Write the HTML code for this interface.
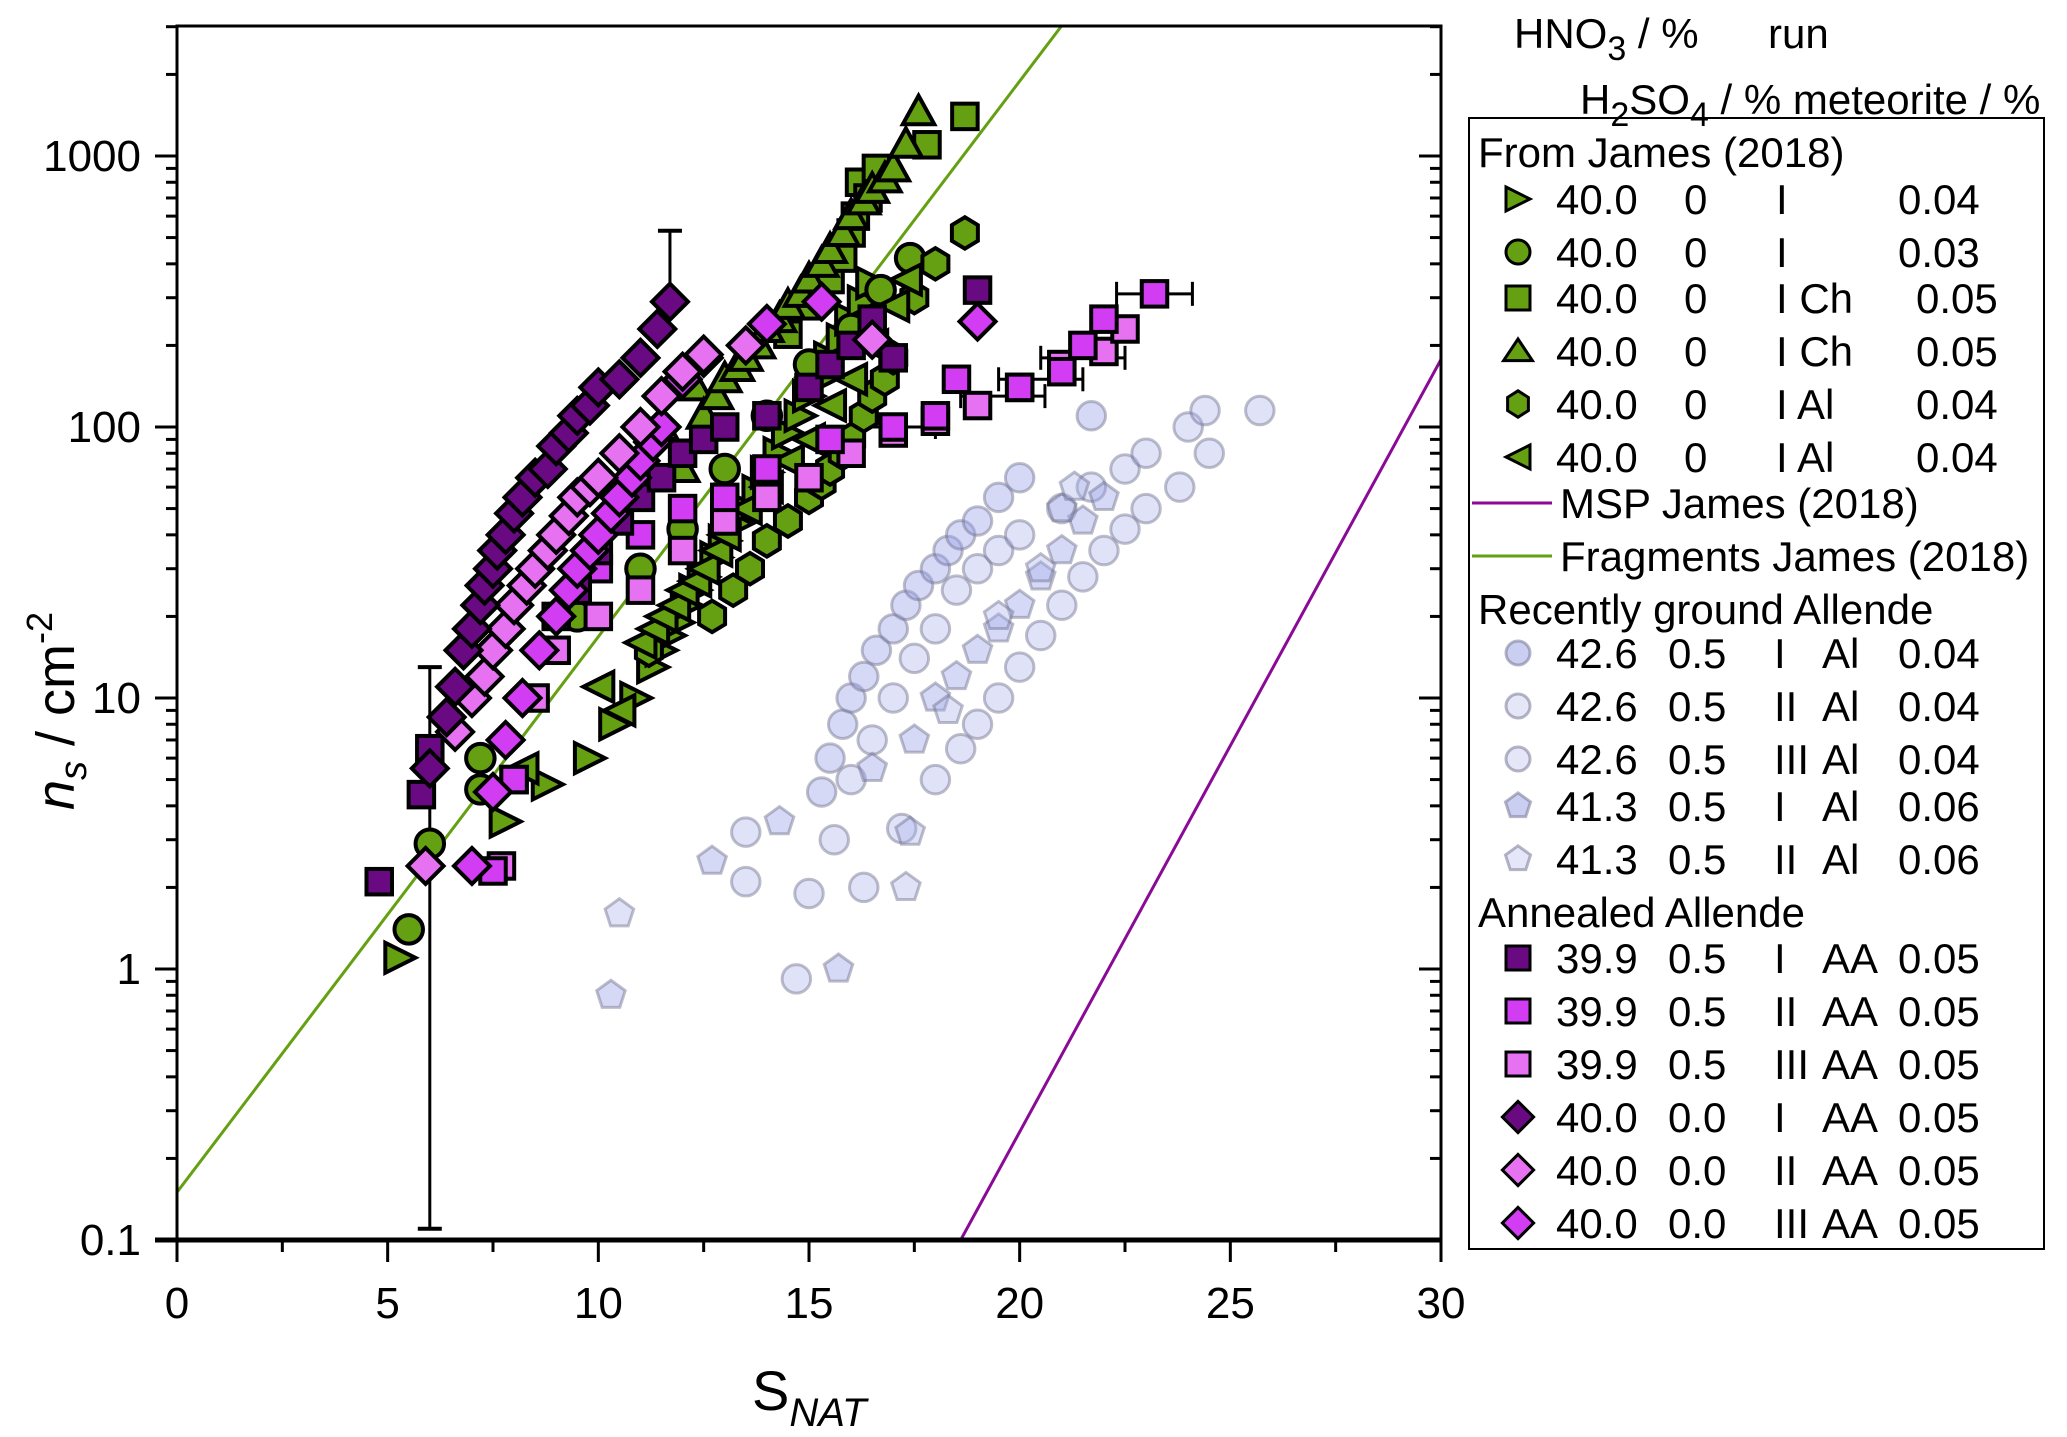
<!DOCTYPE html>
<html><head><meta charset="utf-8"><style>
body{margin:0;background:#fff}
svg{display:block;font-family:"Liberation Sans",Arial,sans-serif}
</style></head><body>
<svg id="chart" width="2067" height="1437" viewBox="0 0 2067 1437" xmlns="http://www.w3.org/2000/svg">
<rect width="2067" height="1437" fill="#fff"/>
<g id="plot"></g>
<g id="axes"></g>
<g id="legend"></g>
</svg>
<script>
const xTicks=[0,5,10,15,20,25,30];
const yTickVals=[0.1,1,10,100,1000];
const yTickLabels=["0.1","1","10","100","1000"];

const triRX=[5.3,7.8,8.8,9.8,10.4,10.9,11.3,11.5,11.7,11.9,12.1,12.3,12.5,12.8,13,13.3,13.5,13.8,14,14.3,14.5,14.8,15,15.3,15.5,15.8,16,16.3,16.5];
const triRY=[1.1,3.5,4.8,6,8,10,13,15,17,19,22,25,28,33,38,44,50,58,68,80,95,110,130,150,180,210,250,290,340];
const circX=[5.5,6,7.2,7.2,9.5,11,12,13,14,15,16,16.7,17.4];
const circY=[1.4,2.9,6,4.6,20,30,42,70,110,170,230,320,420];
const sqGX=[14.5,15,15.2,15.5,15.8,16,16.1,16.2,16.4,16.6,17.8,18.7];
const sqGY=[220,280,320,350,420,520,600,800,700,900,1100,1400];
const triUX=[11.5,12,12.3,12.5,12.8,13,13.3,13.5,13.8,14,14.3,14.5,14.8,15,15.3,15.5,15.8,16,16.3,16.5,16.8,17,17.3,17.6];
const triUY=[100,70,140,110,130,150,165,180,200,230,250,280,310,350,400,450,520,600,680,750,820,900,1100,1450];
const hexX=[11.2,12.7,13.2,13.6,14,14.5,15,15.3,15.5,15.8,16,16.3,16.5,16.8,17,17.5,18,18.7];
const hexY=[15,20,25,30,38,45,55,62,70,80,90,110,130,150,180,300,400,520];
const triLX=[8.2,10,10.5,11,11.3,11.5,11.8,12,12.3,12.5,12.8,13,13.5,14,14.5,15,15.5,16,16.5,17,17.3];
const triLY=[5.5,11,9,16,18,20,22,25,27,30,35,40,50,60,75,90,120,150,200,280,350];
const rgIX=[15.3,15.5,15.8,16,16.3,16.6,17,17.3,17.6,18,18.3,18.6,19,19.5,20,21.7];
const rgIY=[4.5,6,8,10,12,15,18,22,26,30,35,40,45,55,65,110];
const rgIIX=[14.7,15,15.6,16,16.5,17,17.5,18,18.5,19,19.5,20,21,21.7,22.5,23,24,24.4];
const rgIIY=[0.92,1.9,3,5,7,10,14,18,25,30,35,40,50,60,70,80,100,115];
const rgIIIX=[13.5,13.5,16.3,17.2,18,18.6,19,19.5,20,20.5,21,21.5,22,22.5,23,23.8,24.5,25.7];
const rgIIIY=[2.1,3.2,2,3.3,5,6.5,8,10,13,17,22,28,35,42,50,60,80,115];
const pentIX=[10.3,12.7,14.3,15.7,16.5,17.5,18,18.5,19,19.5,20,20.5,21,21.5,22];
const pentIY=[0.8,2.5,3.5,1,5.5,7,10,12,15,18,22,28,35,45,55];
const pentIIX=[10.5,17.3,17.4,18.3,19.5,20.5,21,21.3];
const pentIIY=[1.6,2,3.2,9,20,30,50,60];
const aaSqIX=[4.8,5.8,6,9.5,10,10.5,11,11.5,12,12.5,13,14,15,15.5,16,16.5,17,19];
const aaSqIY=[2.1,4.4,6.5,25,35,45,55,65,80,90,100,110,140,170,200,250,180,320];
const aaSqIIX=[7.5,8,9,10,11,12,13,14,15.5,17,18,18.5,20,21,21.5,22,23.2];
const aaSqIIY=[2.3,5,20,30,40,50,55,70,90,100,110,150,140,160,200,250,310];
const aaSqIIIX=[7.7,8,8.5,9,10,11,12,13,14,15,16,17,18,19,20,21,22,22.5];
const aaSqIIIY=[2.4,5,10,15,20,25,35,45,55,65,80,95,105,120,140,170,190,230];
const dmIX=[6,6.4,6.6,6.8,7,7.2,7.3,7.5,7.6,7.8,8,8.2,8.5,8.8,9,9.3,9.5,9.8,10,10.5,11,11.4,11.7];
const dmIY=[5.5,8.5,11,15,18,22,26,30,35,40,48,55,65,70,85,95,110,120,140,150,180,230,290];
const dmIIX=[5.9,6.6,7,7.3,7.5,7.8,8,8.3,8.5,8.8,9,9.3,9.5,9.8,10,10.5,11,11.5,12,12.5,13.5,16.5];
const dmIIY=[2.4,7.5,10,12,15,18,22,26,30,35,40,47,55,60,65,80,100,130,160,185,200,210];
const dmIIIX=[7,7.5,7.8,8.2,8.6,9,9.3,9.5,9.8,10,10.3,10.5,10.8,11,11.3,11.5,12,12.5,14,15.3,19];
const dmIIIY=[2.4,4.5,7,10,15,20,25,30,35,40,48,55,65,75,88,100,150,180,240,290,245];
const fragLine=[0.15,0.205];
const mspLine=[18.6,0.285];

const NS="http://www.w3.org/2000/svg";
const X0=177,X1=1441,YT=26,YB=1240;
function sx(x){return X0+(x/30)*(X1-X0);}
function sy(v){return 156+(3-Math.log10(v))*271;}
function mk(t,a,p){const e=document.createElementNS(NS,t);for(const k in a)e.setAttribute(k,a[k]);(p||document.getElementById('plot')).appendChild(e);return e;}

const GREEN="#64a012",DP="#6a0a82",MM="#d23cf2",LP="#e672f2",BL="rgba(165,175,235,0.35)",BS="rgba(110,110,140,0.45)";
function shape(kind,cx,cy,fill,stroke,par,s){
  s=s||15;let e;const sw=stroke==="#000"?4:3;
  const at={fill:fill,stroke:stroke,'stroke-width':sw};
  if(kind==='sq'){e=mk('rect',Object.assign({x:cx-s*0.85,y:cy-s*0.85,width:s*1.7,height:s*1.7},at),par);}
  else if(kind==='ci'){e=mk('circle',Object.assign({cx:cx,cy:cy,r:s*0.95},at),par);}
  else{let pts;
    if(kind==='tr')pts=[[-s,-s],[s,0],[-s,s]];
    else if(kind==='tl')pts=[[s,-s],[-s,0],[s,s]];
    else if(kind==='tu')pts=[[0,-s*1.1],[s*1.05,s*0.8],[-s*1.05,s*0.8]];
    else if(kind==='dm')pts=[[0,-s*1.2],[s*1.2,0],[0,s*1.2],[-s*1.2,0]];
    else if(kind==='hx'){pts=[];for(let i=0;i<6;i++){const a=Math.PI/3*i+Math.PI/6;pts.push([Math.cos(a)*s,Math.sin(a)*s*1.05]);}}
    else if(kind==='pn'){pts=[];for(let i=0;i<5;i++){const a=-Math.PI/2+i*2*Math.PI/5;pts.push([Math.cos(a)*s,Math.sin(a)*s]);}}
    e=mk('polygon',Object.assign({points:pts.map(p=>(cx+p[0])+','+(cy+p[1])).join(' ')},at),par);}
  return e;
}
function series(name,kind,xs,ys,fill,stroke){
  const g=mk('g',{});
  
  
  for(let i=0;i<xs.length;i++){
    const m=shape(kind,sx(xs[i]),sy(ys[i]),fill,stroke,g);
    
    
  }
}
const clip=mk('clipPath',{id:'cp'},document.getElementById('chart'));
mk('rect',{x:X0,y:YT,width:X1-X0,height:YB-YT},clip);
const fl=mk('line',{x1:sx(0),y1:sy(fragLine[0]),x2:sx(30),y2:sy(fragLine[0]*Math.pow(10,fragLine[1]*30)),stroke:GREEN,'stroke-width':3,'clip-path':'url(#cp)'});


const ml=mk('line',{x1:sx(mspLine[0]),y1:sy(0.1),x2:sx(30),y2:sy(0.1*Math.pow(10,mspLine[1]*(30-mspLine[0]))),stroke:"#8a0a96",'stroke-width':3,'clip-path':'url(#cp)'});



series('rg-I-circles','ci',rgIX,rgIY,"rgba(150,160,230,0.4)",BS);
series('rg-II-circles','ci',rgIIX,rgIIY,BL,BS);
series('rg-III-circles','ci',rgIIIX,rgIIIY,BL,BS);
series('rg-I-pentagons','pn',pentIX,pentIY,"rgba(150,160,230,0.4)",BS);
series('rg-II-pentagons','pn',pentIIX,pentIIY,BL,BS);
function ebar(x,y1,y2,nm){const g=mk('g',{});
  mk('line',{x1:sx(x),x2:sx(x),y1:sy(y1),y2:sy(y2),stroke:'#000','stroke-width':3},g);
  mk('line',{x1:sx(x)-12,x2:sx(x)+12,y1:sy(y1),y2:sy(y1),stroke:'#000','stroke-width':4},g);
  mk('line',{x1:sx(x)-12,x2:sx(x)+12,y1:sy(y2),y2:sy(y2),stroke:'#000','stroke-width':4},g);}
ebar(6,0.11,13,'error-bar-low');
ebar(11.7,290,530,'error-bar-high');
function hbar(x1,x2,y,nm){const g=mk('g',{});
  mk('line',{x1:sx(x1),x2:sx(x2),y1:sy(y),y2:sy(y),stroke:'#000','stroke-width':3},g);
  mk('line',{x1:sx(x1),x2:sx(x1),y1:sy(y)-12,y2:sy(y)+12,stroke:'#000','stroke-width':3},g);
  mk('line',{x1:sx(x2),x2:sx(x2),y1:sy(y)-12,y2:sy(y)+12,stroke:'#000','stroke-width':3},g);}
hbar(22.3,24.1,310,'hbar-1');hbar(20.5,22.5,180,'hbar-2');hbar(18.6,20.6,130,'hbar-3');hbar(16,18,100,'hbar-4');hbar(19.5,21.5,150,'hbar-5');

series('james-right-triangles','tr',triRX,triRY,GREEN,'#000');
series('james-circles','ci',circX,circY,GREEN,'#000');
series('james-squares','sq',sqGX,sqGY,GREEN,'#000');
series('james-up-triangles','tu',triUX,triUY,GREEN,'#000');
series('james-hexagons','hx',hexX,hexY,GREEN,'#000');
series('james-left-triangles','tl',triLX,triLY,GREEN,'#000');
series('aa-III-squares','sq',aaSqIIIX,aaSqIIIY,LP,'#000');
series('aa-II-squares','sq',aaSqIIX,aaSqIIY,MM,'#000');
series('aa-I-squares','sq',aaSqIX,aaSqIY,DP,'#000');
series('aa-III-diamonds','dm',dmIIIX,dmIIIY,MM,'#000');
series('aa-II-diamonds','dm',dmIIX,dmIIY,LP,'#000');
series('aa-I-diamonds','dm',dmIX,dmIY,DP,'#000');

const ax=document.getElementById('axes');
mk('rect',{x:X0,y:YT,width:X1-X0,height:YB-YT,fill:'none',stroke:'#000','stroke-width':3},ax);
mk('line',{x1:X0-22,x2:X1,y1:YB,y2:YB,stroke:'#000','stroke-width':5},ax);
for(let i=0;i<=12;i++){const v=i*2.5,x=sx(v),maj=i%2===0;
  mk('line',{x1:x,x2:x,y1:YB,y2:YB+(maj?22:12),stroke:'#000','stroke-width':3},ax);}
xTicks.forEach(v=>{const t=mk('text',{x:sx(v),y:1318,'font-size':44,'text-anchor':'middle'},ax);t.textContent=v;
  });
for(let d=-1;d<=3;d++){for(let k=1;k<=9;k++){const v=k*Math.pow(10,d);const y=sy(v);if(y<YT)continue;
  const maj=k===1;
  mk('line',{x1:X0-(maj?22:11),x2:X0,y1:y,y2:y,stroke:'#000','stroke-width':3},ax);
  mk('line',{x1:X1-(maj?22:11),x2:X1,y1:y,y2:y,stroke:'#000','stroke-width':3},ax);}}
yTickVals.forEach((v,i)=>{const t=mk('text',{x:141,y:sy(v)+15,'font-size':44,'text-anchor':'end'},ax);t.textContent=yTickLabels[i];
  });
</script>
<svg style="position:absolute;left:0;top:0" width="2067" height="1437">
<text x="752" y="1410" font-family="Liberation Sans,sans-serif" font-size="56">S<tspan font-size="40" font-style="italic" dy="16">NAT</tspan></text>
<text transform="translate(74,810) rotate(-90)" font-family="Liberation Sans,sans-serif" font-size="54"><tspan font-style="italic">n</tspan><tspan font-size="38" font-style="italic" dy="12">s</tspan><tspan dy="-12"> / cm</tspan><tspan font-size="36" dy="-22">-2</tspan></text>
<g font-family="Liberation Sans,sans-serif" font-size="42">
<text x="1514" y="48">HNO<tspan font-size="34" dy="12">3</tspan><tspan dy="-12"> / %</tspan></text>
<text x="1768" y="48">run</text>
<text x="1580" y="114">H<tspan font-size="34" dy="12">2</tspan><tspan dy="-12">SO</tspan><tspan font-size="34" dy="12">4</tspan><tspan dy="-12"> / % meteorite / %</tspan></text>
</g>
<rect x="1469" y="118" width="575" height="1131" fill="none" stroke="#000" stroke-width="2"/>
<g id="lg" font-family="Liberation Sans,sans-serif" font-size="42"></g>
</svg>
<script>
(function(){
const NS="http://www.w3.org/2000/svg";const lg=document.getElementById('lg');
function t(x,y,s){const e=document.createElementNS(NS,'text');e.setAttribute('x',x);e.setAttribute('y',y+15);e.textContent=s;lg.appendChild(e);return e;}
const G="#64a012",DP="#6a0a82",MM="#d23cf2",LP="#e672f2";
const rows=[
 ['h',152,'From James (2018)'],
 ['tr',199,G,'40.0','0','I','','0.04'],['ci',252,G,'40.0','0','I','','0.03'],
 ['sq',298,G,'40.0','0','I Ch','','0.05'],['tu',351,G,'40.0','0','I Ch','','0.05'],
 ['hx',404,G,'40.0','0','I Al','','0.04'],['tl',457,G,'40.0','0','I Al','','0.04'],
 ['ln',503,'#8a0a96','MSP James (2018)'],['ln',556,G,'Fragments James (2018)'],
 ['h',609,'Recently ground Allende'],
 ['ci',653,'b','42.6','0.5','I','Al','0.04'],['ci',706,'c','42.6','0.5','II','Al','0.04'],['ci',759,'c','42.6','0.5','III','Al','0.04'],
 ['pn',806,'b','41.3','0.5','I','Al','0.06'],['pn',859,'c','41.3','0.5','II','Al','0.06'],
 ['h',912,'Annealed Allende'],
 ['sq',958,DP,'39.9','0.5','I','AA','0.05'],['sq',1011,MM,'39.9','0.5','II','AA','0.05'],['sq',1064,LP,'39.9','0.5','III','AA','0.05'],
 ['dm',1117,DP,'40.0','0.0','I','AA','0.05'],['dm',1170,LP,'40.0','0.0','II','AA','0.05'],['dm',1223,MM,'40.0','0.0','III','AA','0.05']];
rows.forEach(r=>{const k=r[0],y=r[1];
 if(k==='h'){const e=t(1478,y,r[2]);return;}
 if(k==='ln'){const l=document.createElementNS(NS,'line');l.setAttribute('x1',1472);l.setAttribute('x2',1552);l.setAttribute('y1',y);l.setAttribute('y2',y);l.setAttribute('stroke',r[2]);l.setAttribute('stroke-width',3);lg.appendChild(l);
   const e=t(1560,y,r[3]);return;}
 const cx=1518,s=12;let fill=r[2],st='#000';if(fill==='b'){fill='rgba(150,160,230,0.5)';st='rgba(110,110,140,0.5)';}if(fill==='c'){fill='rgba(190,195,240,0.4)';st='rgba(110,110,140,0.5)';}
 let e;
 if(k==='sq'){e=document.createElementNS(NS,'rect');e.setAttribute('x',cx-s);e.setAttribute('y',y-s);e.setAttribute('width',2*s);e.setAttribute('height',2*s);}
 else if(k==='ci'){e=document.createElementNS(NS,'circle');e.setAttribute('cx',cx);e.setAttribute('cy',y);e.setAttribute('r',s);}
 else{let p;if(k==='tr')p=[[-s,-s],[s,0],[-s,s]];else if(k==='tl')p=[[s,-s],[-s,0],[s,s]];else if(k==='tu')p=[[0,-s],[s*1.2,s*0.8],[-s*1.2,s*0.8]];
  else if(k==='dm')p=[[0,-s*1.3],[s*1.3,0],[0,s*1.3],[-s*1.3,0]];
  else if(k==='hx'){p=[];for(let i=0;i<6;i++){const a=Math.PI/3*i+Math.PI/6;p.push([Math.cos(a)*s,Math.sin(a)*s*1.1]);}}
  else {p=[];for(let i=0;i<5;i++){const a=-Math.PI/2+i*2*Math.PI/5;p.push([Math.cos(a)*s*1.1,Math.sin(a)*s*1.1]);}}
  e=document.createElementNS(NS,'polygon');e.setAttribute('points',p.map(q=>(cx+q[0])+','+(y+q[1])).join(' '));}
 e.setAttribute('fill',fill);e.setAttribute('stroke',st);e.setAttribute('stroke-width',3);lg.appendChild(e);
 
 
 t(1556,y,r[3]);t(r[4].length>1?1668:1684,y,r[4]);
 if(r[6]){t(1774,y,r[5]);t(1822,y,r[6]);t(1898,y,r[7]);}
 else{t(1776,y,r[5]);t(r[5].length>1?1916:1898,y,r[7]);}
});
})();
</script>
</body></html>
